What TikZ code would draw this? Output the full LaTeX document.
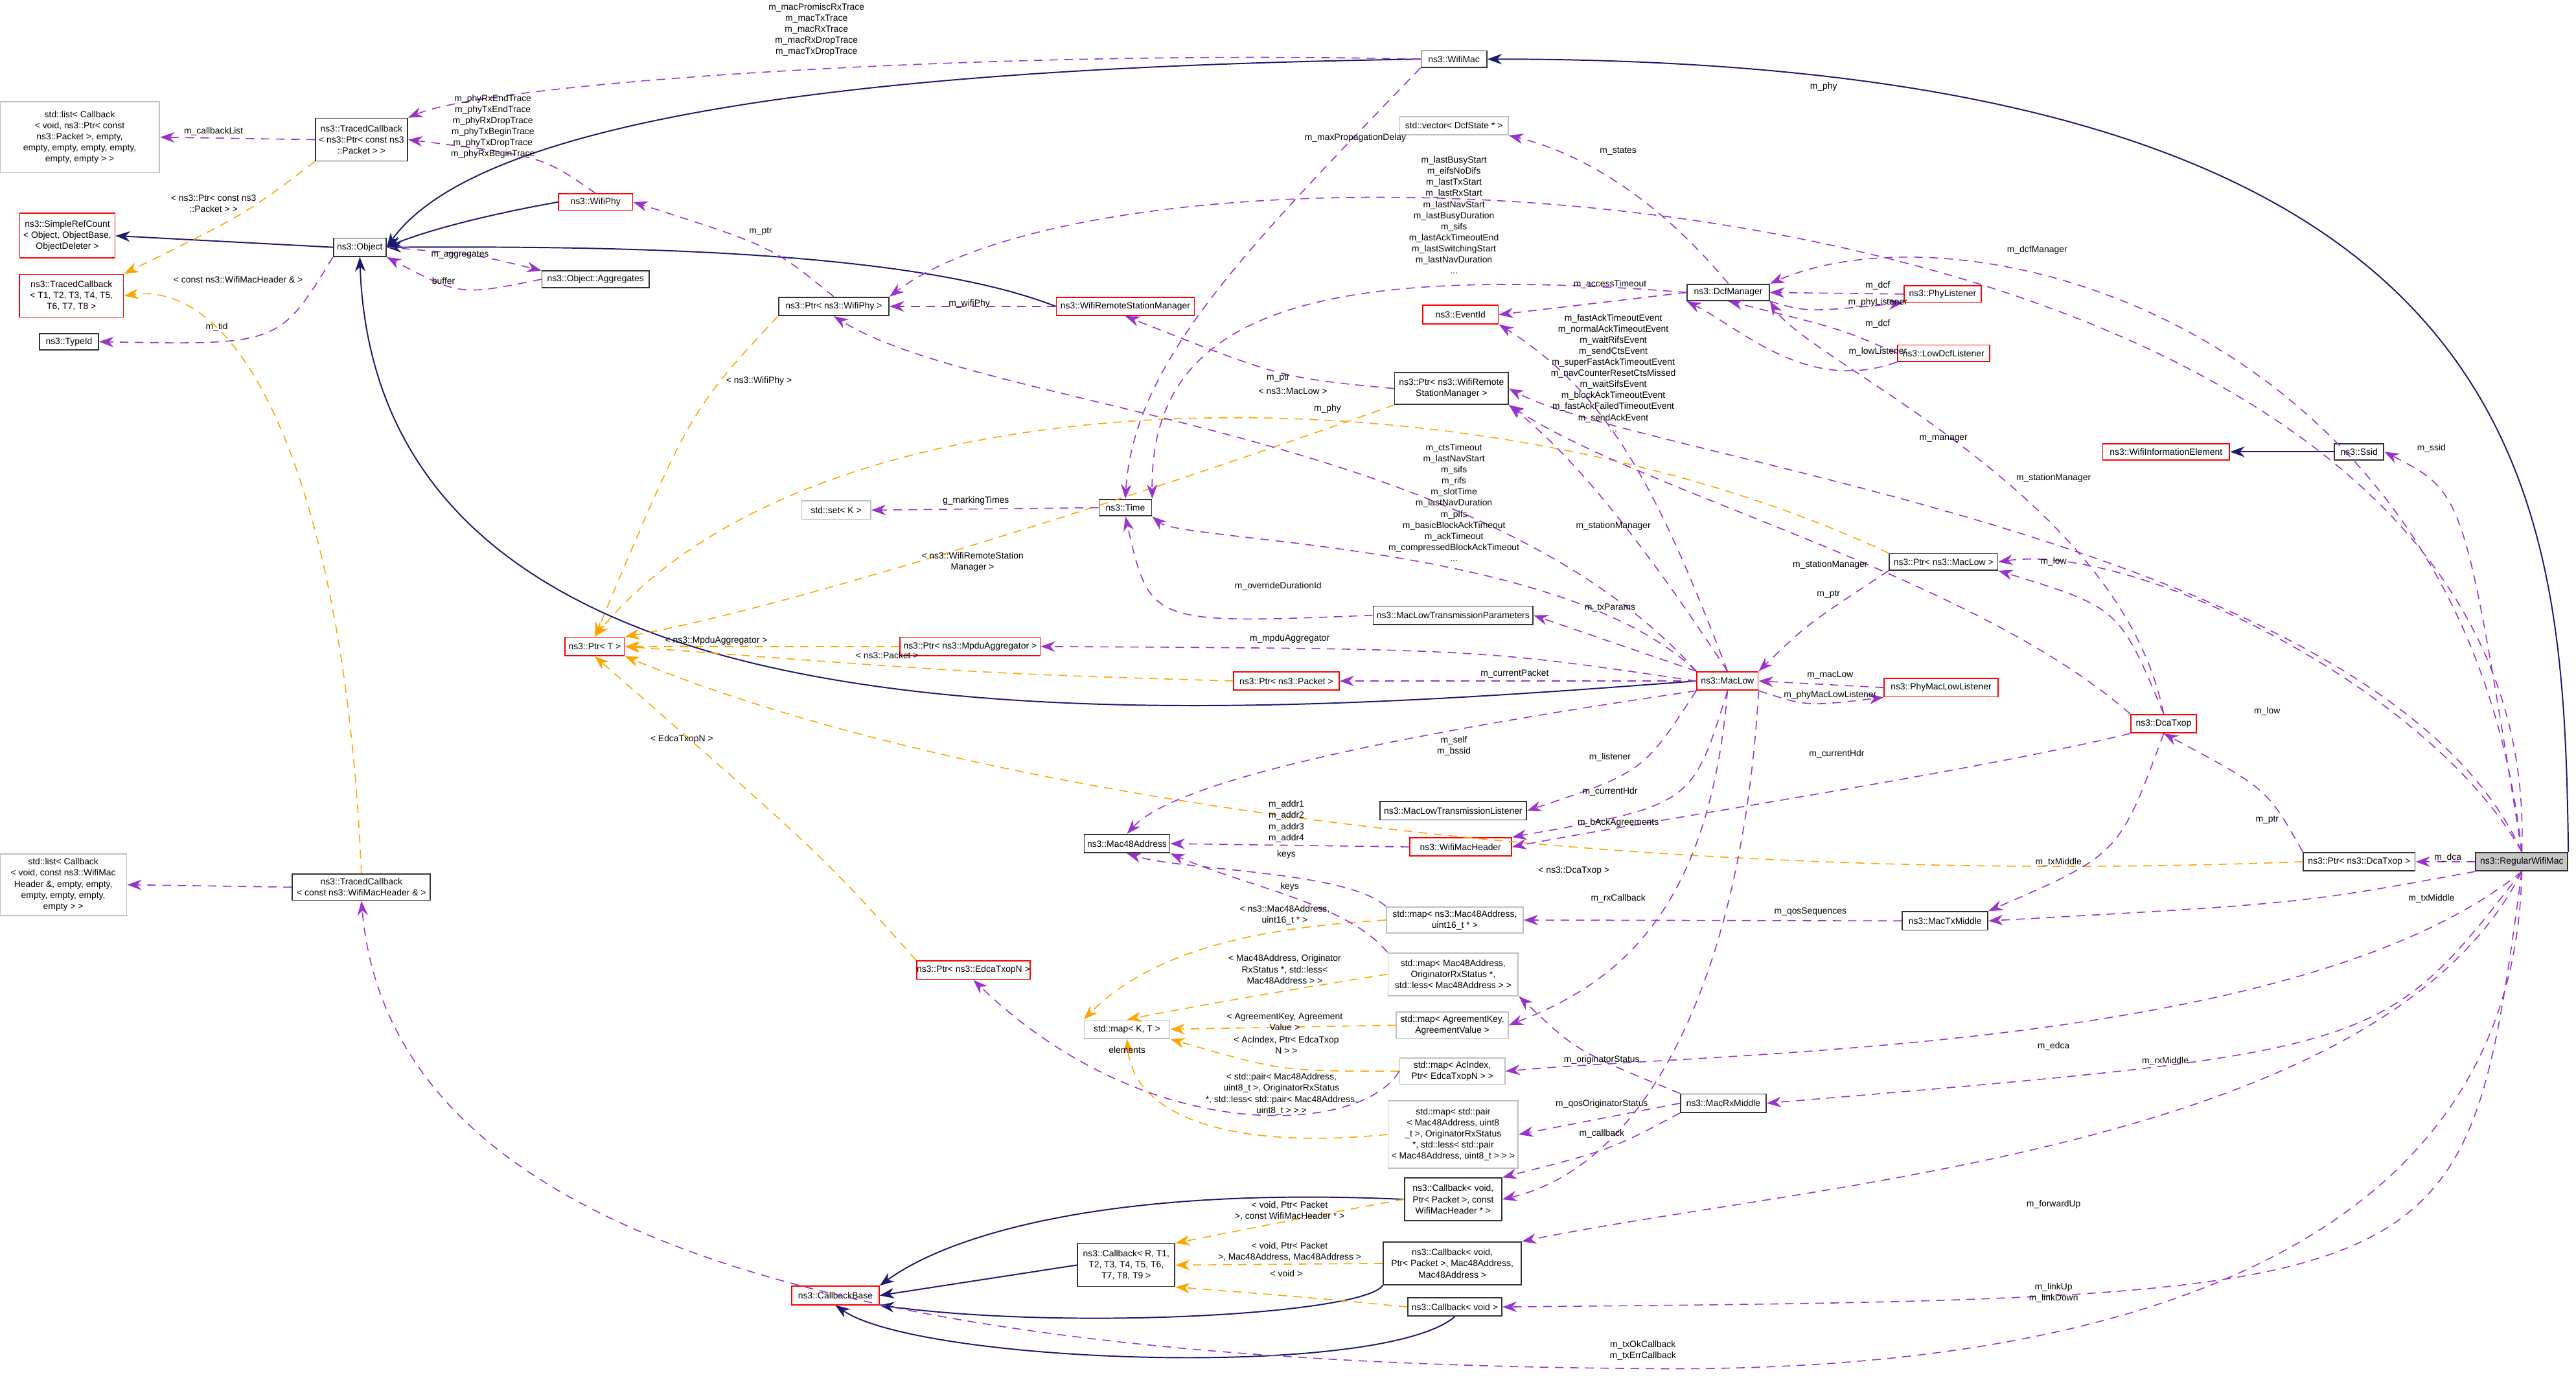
\documentclass[tikz,border=0pt]{standalone}
\usepackage{fontspec}
\setmainfont{Liberation Sans}
\usetikzlibrary{arrows.meta}
\definecolor{pur}{HTML}{9A32CD}
\definecolor{org}{HTML}{FFA500}
\definecolor{nav}{HTML}{191970}
\definecolor{rbd}{HTML}{FF0000}
\definecolor{gbd}{HTML}{BFBFBF}
\tikzset{
 base/.style={draw, line width=0.5pt, inner sep=0pt, align=center, font=\fontsize{3.9}{4.8}\selectfont},
 blk/.style={base, draw=black!80},
 red/.style={base, draw=rbd},
 gry/.style={base, draw=gbd},
 cur/.style={base, draw=black!80, fill=black!22},
 lab/.style={inner sep=0pt, align=center, font=\fontsize{3.9}{4.8}\selectfont},
 tip/.style={-{Stealth[length=2.2mm,width=1.6mm]}},
 mem/.style={tip, pur, dashed, dash pattern=on 1.3mm off 1mm, line width=0.45pt},
 tpl/.style={tip, org, dash pattern=on 1.3mm off 1mm, line width=0.45pt},
 inh/.style={tip, nav, line width=0.55pt},
}
\begin{document}
\begin{tikzpicture}[x=0.025cm,y=0.025cm]
\useasboundingbox (0,0) rectangle (1568,-841);
% nodes
\node[gry,minimum width=2.43cm,minimum height=1.08cm] (lstA) at (48.5,-83.5) {std::list< Callback\\< void, ns3::Ptr< const\\ ns3::Packet >, empty,\\ empty, empty, empty, empty,\\ empty, empty > >};
\node[blk,minimum width=1.4cm,minimum height=0.65cm] (tcp) at (220,-85) {ns3::TracedCallback\\< ns3::Ptr< const ns3\\::Packet > >};
\node[red,minimum width=1.45cm,minimum height=0.68cm] (src) at (41,-143.5) {ns3::SimpleRefCount\\< Object, ObjectBase,\\ ObjectDeleter >};
\node[red,minimum width=1.58cm,minimum height=0.65cm] (tcT) at (43.5,-180) {ns3::TracedCallback\\< T1, T2, T3, T4, T5,\\ T6, T7, T8 >};
\node[blk,minimum width=0.8cm,minimum height=0.28cm] (obj) at (219,-150.5) {ns3::Object};
\node[blk,minimum width=0.9cm,minimum height=0.25cm] (tid) at (42,-208) {ns3::TypeId};
\node[red,minimum width=1.13cm,minimum height=0.25cm] (phy) at (362.5,-123) {ns3::WifiPhy};
\node[blk,minimum width=1.63cm,minimum height=0.25cm] (agg) at (362.5,-170) {ns3::Object::Aggregates};
\node[blk,minimum width=1.68cm,minimum height=0.28cm] (pphy) at (507.5,-186.5) {ns3::Ptr< ns3::WifiPhy >};
\node[red,minimum width=2.1cm,minimum height=0.28cm] (wrsm) at (685,-186.5) {ns3::WifiRemoteStationManager};
\node[blk,minimum width=1.0cm,minimum height=0.25cm] (wmac) at (885,-36) {ns3::WifiMac};
\node[gry,minimum width=1.65cm,minimum height=0.28cm] (vec) at (885,-76.5) {std::vector< DcfState * >};
\node[blk,minimum width=1.25cm,minimum height=0.25cm] (dcf) at (1052,-178) {ns3::DcfManager};
\node[red,minimum width=1.15cm,minimum height=0.28cm] (eid) at (889,-191.5) {ns3::EventId};
\node[red,minimum width=1.18cm,minimum height=0.25cm] (phl) at (1182.5,-179) {ns3::PhyListener};
\node[red,minimum width=1.4cm,minimum height=0.25cm] (ldl) at (1183,-215) {ns3::LowDcfListener};
\node[blk,minimum width=1.73cm,minimum height=0.48cm] (pwrsm) at (883.5,-236.5) {ns3::Ptr< ns3::WifiRemote\\StationManager >};
\node[red,minimum width=1.93cm,minimum height=0.25cm] (wie) at (1318.5,-275) {ns3::WifiInformationElement};
\node[blk,minimum width=0.75cm,minimum height=0.25cm] (ssid) at (1436,-275) {ns3::Ssid};
\node[gry,minimum width=1.05cm,minimum height=0.28cm] (set) at (509,-310.5) {std::set< K >};
\node[blk,minimum width=0.8cm,minimum height=0.25cm] (time) at (685,-309) {ns3::Time};
\node[blk,minimum width=1.65cm,minimum height=0.25cm] (pml) at (1183,-342) {ns3::Ptr< ns3::MacLow >};
\node[blk,minimum width=2.43cm,minimum height=0.28cm] (mltp) at (884.5,-374.5) {ns3::MacLowTransmissionParameters};
\node[red,minimum width=0.9cm,minimum height=0.28cm] (ptrT) at (362,-393.5) {ns3::Ptr< T >};
\node[red,minimum width=2.13cm,minimum height=0.28cm] (pagg) at (590.5,-393.5) {ns3::Ptr< ns3::MpduAggregator >};
\node[red,minimum width=1.6cm,minimum height=0.28cm] (ppkt) at (783,-414.5) {ns3::Ptr< ns3::Packet >};
\node[red,minimum width=0.93cm,minimum height=0.28cm] (mlow) at (1051.5,-414.5) {ns3::MacLow};
\node[red,minimum width=1.73cm,minimum height=0.28cm] (pmll) at (1181.5,-418.5) {ns3::PhyMacLowListener};
\node[red,minimum width=1.0cm,minimum height=0.28cm] (dca) at (1317,-440.5) {ns3::DcaTxop};
\node[blk,minimum width=2.23cm,minimum height=0.28cm] (mltl) at (884.5,-493.5) {ns3::MacLowTransmissionListener};
\node[blk,minimum width=1.3cm,minimum height=0.28cm] (m48) at (686,-513.5) {ns3::Mac48Address};
\node[red,minimum width=1.55cm,minimum height=0.28cm] (wmh) at (889,-515.5) {ns3::WifiMacHeader};
\node[blk,minimum width=1.7cm,minimum height=0.28cm] (pdca) at (1436,-524.5) {ns3::Ptr< ns3::DcaTxop >};
\node[cur,minimum width=1.4cm,minimum height=0.28cm] (rwm) at (1535,-524.5) {ns3::RegularWifiMac};
\node[gry,minimum width=1.93cm,minimum height=0.93cm] (lstB) at (38.5,-538.5) {std::list< Callback\\< void, const ns3::WifiMac\\Header \&, empty, empty,\\ empty, empty, empty,\\ empty > >};
\node[blk,minimum width=2.1cm,minimum height=0.4cm] (tch) at (220,-540) {ns3::TracedCallback\\< const ns3::WifiMacHeader \& >};
\node[gry,minimum width=2.08cm,minimum height=0.4cm] (map1) at (885.5,-560) {std::map< ns3::Mac48Address,\\ uint16\_t * >};
\node[blk,minimum width=1.3cm,minimum height=0.28cm] (mtx) at (1184,-560.5) {ns3::MacTxMiddle};
\node[red,minimum width=1.63cm,minimum height=0.28cm] (pedca) at (592.5,-590.5) {ns3::Ptr< ns3::EdcaTxopN >};
\node[gry,minimum width=1.98cm,minimum height=0.65cm] (map2) at (884.5,-593) {std::map< Mac48Address,\\ OriginatorRxStatus *,\\ std::less< Mac48Address > >};
\node[gry,minimum width=1.3cm,minimum height=0.28cm] (mapKT) at (686,-626.5) {std::map< K, T >};
\node[gry,minimum width=1.7cm,minimum height=0.4cm] (map3) at (884,-624) {std::map< AgreementKey,\\ AgreementValue >};
\node[gry,minimum width=1.6cm,minimum height=0.4cm] (map4) at (884,-652) {std::map< AcIndex,\\ Ptr< EdcaTxopN > >};
\node[blk,minimum width=1.3cm,minimum height=0.28cm] (mrx) at (1049,-671.5) {ns3::MacRxMiddle};
\node[gry,minimum width=1.98cm,minimum height=1.03cm] (map5) at (884.5,-690.5) {std::map< std::pair\\< Mac48Address, uint8\\\_t >, OriginatorRxStatus\\ *, std::less< std::pair\\< Mac48Address, uint8\_t > > >};
\node[blk,minimum width=1.48cm,minimum height=0.65cm] (cb1) at (884.5,-730) {ns3::Callback< void,\\ Ptr< Packet >, const\\ WifiMacHeader * >};
\node[blk,minimum width=1.48cm,minimum height=0.65cm] (cbR) at (685.5,-770) {ns3::Callback< R, T1,\\ T2, T3, T4, T5, T6,\\ T7, T8, T9 >};
\node[blk,minimum width=2.1cm,minimum height=0.65cm] (cb2) at (884,-769) {ns3::Callback< void,\\ Ptr< Packet >, Mac48Address,\\ Mac48Address >};
\node[red,minimum width=1.33cm,minimum height=0.28cm] (cbb) at (508.5,-788.5) {ns3::CallbackBase};
\node[blk,minimum width=1.43cm,minimum height=0.28cm] (cb3) at (885.5,-795.5) {ns3::Callback< void >};
\coordinate (bot) at (1000,-833);

% inheritance
\draw[inh] (wmac.west) .. controls (600,-40) and (300,-60) .. (obj.east);
\draw[inh] (rwm.north east) .. controls (1560,-300) and (1550,-36) .. (wmac.east);
\draw[inh] (phy.west) .. controls (300,-130) and (260,-140) .. (obj.east);
\draw[inh] (wrsm.west) .. controls (550,-150) and (350,-150) .. (obj.east);
\draw[inh] (obj.west) -- (src.east);
\draw[inh] (mlow.west) .. controls (700,-440) and (230,-470) .. (obj.south);
\draw[inh] (ssid.west) -- (wie.east);
\draw[inh] (cb1.west) .. controls (680,-722) and (580,-750) .. (cbb.north east);
\draw[inh] (cbR.west) -- (cbb.east);
\draw[inh] (cb2.south west) .. controls (830,-800) and (650,-810) .. (cbb.south east);
\draw[inh] (cb3.south) .. controls (840,-840) and (560,-830) .. (cbb.south);

% templates
\draw[tpl] (tcp.south west) .. controls (150,-130) .. (tcT.north east);
\draw[tpl] (tch.north) .. controls (210,-300) and (150,-170) .. (tcT.east);
\draw[tpl] (pphy.south west) .. controls (420,-250) .. (ptrT.north);
\draw[tpl] (pwrsm.south west) .. controls (700,-300) and (480,-370) .. (ptrT.north east);
\draw[tpl] (pml.north west) .. controls (900,-220) and (500,-220) .. (ptrT.north);
\draw[tpl] (pagg.west) -- (ptrT.east);
\draw[tpl] (ppkt.west) .. controls (600,-410) .. (ptrT.east);
\draw[tpl] (pedca.north west) .. controls (500,-520) .. (ptrT.south);
\draw[tpl] (pdca.west) .. controls (1000,-540) and (600,-490) .. (ptrT.south east);
\draw[tpl] (map1.west) .. controls (760,-565) and (700,-580) .. (mapKT.north west);
\draw[tpl] (map2.west) .. controls (800,-600) and (740,-610) .. (mapKT.north);
\draw[tpl] (map3.west) -- (mapKT.east);
\draw[tpl] (map4.west) .. controls (780,-652) .. (mapKT.south east);
\draw[tpl] (map5.west) .. controls (750,-700) and (690,-680) .. (mapKT.south);
\draw[tpl] (cb1.west) .. controls (800,-740) .. (cbR.north east);
\draw[tpl] (cb2.west) -- (cbR.east);
\draw[tpl] (cb3.west) .. controls (800,-790) .. (cbR.south east);

% members
\draw[mem] (tcp.west) -- (lstA.east);
\draw[mem] (tch.west) -- (lstB.east);
\draw[mem] (wmac.west) .. controls (600,-30) and (300,-50) .. (tcp.north east);
\draw[mem] (phy.north) .. controls (330,-95) .. (tcp.east);
\draw[mem] (obj.east) .. controls (290,-155) .. (agg.north west);
\draw[mem] (agg.west) .. controls (280,-180) .. (obj.south east);
\draw[mem] (obj.south west) .. controls (170,-210) .. (tid.east);
\draw[mem] (wrsm.west) -- (pphy.east);
\draw[mem] (pphy.north) .. controls (470,-150) .. (phy.east);
\draw[mem] (wmac.south west) .. controls (760,-150) and (690,-220) .. (time.north);
\draw[mem] (dcf.north) .. controls (1000,-110) and (950,-90) .. (vec.south east);
\draw[mem] (dcf.west) .. controls (800,-160) and (700,-190) .. (time.north east);
\draw[mem] (dcf.west) -- (eid.east);
\draw[mem] (phl.west) -- (dcf.east);
\draw[mem] (dcf.south east) .. controls (1100,-190) .. (phl.south west);
\draw[mem] (ldl.west) .. controls (1120,-200) .. (dcf.south);
\draw[mem] (ldl.south west) .. controls (1100,-240) and (1060,-200) .. (dcf.south west);
\draw[mem] (mlow.north) .. controls (1010,-300) and (980,-240) .. (eid.south east);
\draw[mem] (mlow.north) .. controls (1000,-330) and (960,-280) .. (pwrsm.south east);
\draw[mem] (pwrsm.west) .. controls (780,-230) .. (wrsm.south);
\draw[mem] (mlow.north west) .. controls (900,-260) and (600,-250) .. (pphy.south);
\draw[mem] (rwm.north) .. controls (1550,-100) and (700,-60) .. (pphy.north east);
\draw[mem] (rwm.north) .. controls (1500,-200) and (1200,-120) .. (dcf.north east);
\draw[mem] (rwm.north) .. controls (1500,-300) .. (ssid.east);
\draw[mem] (rwm.north) .. controls (1450,-330) and (1000,-280) .. (pwrsm.east);
\draw[mem] (time.west) -- (set.east);
\draw[mem] (mlow.north west) .. controls (950,-330) and (720,-330) .. (time.south east);
\draw[mem] (mltp.west) .. controls (700,-380) .. (time.south);
\draw[mem] (mlow.north west) -- (mltp.east);
\draw[mem] (mlow.west) .. controls (900,-395) .. (pagg.east);
\draw[mem] (mlow.west) -- (ppkt.east);
\draw[mem] (pml.south west) .. controls (1100,-380) .. (mlow.north east);
\draw[mem] (pmll.west) -- (mlow.east);
\draw[mem] (mlow.south east) .. controls (1100,-430) .. (pmll.south west);
\draw[mem] (dca.north) .. controls (1290,-300) and (1100,-220) .. (dcf.south east);
\draw[mem] (dca.north) .. controls (1290,-370) .. (pml.south east);
\draw[mem] (dca.north west) .. controls (1200,-350) and (1000,-300) .. (pwrsm.south east);
\draw[mem] (dca.south west) .. controls (1200,-470) and (1000,-500) .. (wmh.east);
\draw[mem] (dca.south) .. controls (1290,-520) .. (mtx.north east);
\draw[mem] (rwm.north) .. controls (1480,-420) and (1300,-330) .. (pml.east);
\draw[mem] (rwm.west) -- (pdca.east);
\draw[mem] (pdca.north west) .. controls (1380,-480) .. (dca.south);
\draw[mem] (mlow.south west) .. controls (900,-440) and (720,-470) .. (m48.north);
\draw[mem] (mlow.south west) .. controls (1000,-470) .. (mltl.east);
\draw[mem] (mlow.south) .. controls (1030,-490) .. (wmh.north east);
\draw[mem] (wmh.west) -- (m48.east);
\draw[mem] (map1.north west) .. controls (820,-530) and (720,-530) .. (m48.south);
\draw[mem] (map2.north west) .. controls (820,-550) and (760,-540) .. (m48.south east);
\draw[mem] (mlow.south) .. controls (1040,-560) and (980,-600) .. (map3.east);
\draw[mem] (mlow.south east) .. controls (1060,-600) and (1000,-710) .. (cb1.east);
\draw[mem] (rwm.south west) .. controls (1400,-550) .. (mtx.east);
\draw[mem] (mtx.west) -- (map1.east);
\draw[mem] (map4.west) .. controls (830,-690) and (700,-700) .. (pedca.south);
\draw[mem] (rwm.south) .. controls (1400,-640) and (1050,-640) .. (map4.east);
\draw[mem] (rwm.south) .. controls (1450,-640) .. (mrx.east);
\draw[mem] (mrx.north west) .. controls (960,-640) .. (map2.south east);
\draw[mem] (mrx.west) -- (map5.east);
\draw[mem] (mrx.south west) .. controls (980,-700) .. (cb1.north east);
\draw[mem] (rwm.south) .. controls (1450,-700) and (1100,-720) .. (cb2.north east);
\draw[mem] (rwm.south) .. controls (1500,-790) .. (cb3.east);
\draw[mem] (rwm.south) .. controls (1530,-780) and (1250,-836) .. (bot) .. controls (600,-830) and (240,-780) .. (tch.south);

% labels
\node[lab] (l1) at (497,-18) {m\_macPromiscRxTrace\\m\_macTxTrace\\m\_macRxTrace\\m\_macRxDropTrace\\m\_macTxDropTrace};
\node[lab] (l2) at (130,-80) {m\_callbackList};
\node[lab] (l3) at (300,-77) {m\_phyRxEndTrace\\m\_phyTxEndTrace\\m\_phyRxDropTrace\\m\_phyTxBeginTrace\\m\_phyTxDropTrace\\m\_phyRxBeginTrace};
\node[lab] (l4) at (130,-124) {< ns3::Ptr< const ns3\\::Packet > >};
\node[lab] (l5) at (145,-170) {< const ns3::WifiMacHeader \& >};
\node[lab] (l6) at (280,-155) {m\_aggregates};
\node[lab] (l7) at (270,-171) {buffer};
\node[lab] (l8) at (132,-199) {m\_tid};
\node[lab] (l9) at (463,-141) {m\_ptr};
\node[lab] (l10) at (825,-84) {m\_maxPropagationDelay};
\node[lab] (l11) at (885,-131) {m\_lastBusyStart\\m\_eifsNoDifs\\m\_lastTxStart\\m\_lastRxStart\\m\_lastNavStart\\m\_lastBusyDuration\\m\_sifs\\m\_lastAckTimeoutEnd\\m\_lastSwitchingStart\\m\_lastNavDuration\\...};
\node[lab] (l12) at (985,-92) {m\_states};
\node[lab] (l13) at (980,-173) {m\_accessTimeout};
\node[lab] (l14) at (1143,-174) {m\_dcf};
\node[lab] (l15) at (1143,-184) {m\_phyListener};
\node[lab] (l16) at (1143,-197) {m\_dcf};
\node[lab] (l17) at (1143,-214) {m\_lowListener};
\node[lab] (l18) at (982,-227) {m\_fastAckTimeoutEvent\\m\_normalAckTimeoutEvent\\m\_waitRifsEvent\\m\_sendCtsEvent\\m\_superFastAckTimeoutEvent\\m\_navCounterResetCtsMissed\\m\_waitSifsEvent\\m\_blockAckTimeoutEvent\\m\_fastAckFailedTimeoutEvent\\m\_sendAckEvent\\...};
\node[lab] (l19) at (885,-306) {m\_ctsTimeout\\m\_lastNavStart\\m\_sifs\\m\_rifs\\m\_slotTime\\m\_lastNavDuration\\m\_pifs\\m\_basicBlockAckTimeout\\m\_ackTimeout\\m\_compressedBlockAckTimeout\\...};
\node[lab] (l20) at (982,-320) {m\_stationManager};
\node[lab] (l21) at (1114,-344) {m\_stationManager};
\node[lab] (l22) at (1250,-291) {m\_stationManager};
\node[lab] (l23) at (787,-238) {< ns3::MacLow >};
\node[lab] (l24) at (778,-230) {m\_ptr};
\node[lab] (l25) at (808,-249) {m\_phy};
\node[lab] (l26) at (590,-185) {m\_wifiPhy};
\node[lab] (l27) at (462,-232) {< ns3::WifiPhy >};
\node[lab] (l28) at (594,-305) {g\_markingTimes};
\node[lab] (l29) at (592,-342) {< ns3::WifiRemoteStation\\Manager >};
\node[lab] (l30) at (778,-357) {m\_overrideDurationId};
\node[lab] (l31) at (980,-370) {m\_txParams};
\node[lab] (l32) at (436,-390) {< ns3::MpduAggregator >};
\node[lab] (l33) at (785,-389) {m\_mpduAggregator};
\node[lab] (l34) at (540,-399) {< ns3::Packet >};
\node[lab] (l35) at (922,-410) {m\_currentPacket};
\node[lab] (l36) at (1113,-362) {m\_ptr};
\node[lab] (l37) at (1250,-342) {m\_low};
\node[lab] (l38) at (1114,-411) {m\_macLow};
\node[lab] (l39) at (1114,-423) {m\_phyMacLowListener};
\node[lab] (l40) at (1183,-267) {m\_manager};
\node[lab] (l41) at (415,-450) {< EdcaTxopN >};
\node[lab] (l42) at (885,-454) {m\_self\\m\_bssid};
\node[lab] (l43) at (980,-461) {m\_listener};
\node[lab] (l44) at (980,-482) {m\_currentHdr};
\node[lab] (l45) at (1118,-459) {m\_currentHdr};
\node[lab] (l46) at (985,-501) {m\_bAckAgreements};
\node[lab] (l47) at (783,-500) {m\_addr1\\m\_addr2\\m\_addr3\\m\_addr4};
\node[lab] (l48) at (958,-530) {< ns3::DcaTxop >};
\node[lab] (l49) at (1380,-499) {m\_ptr};
\node[lab] (l50) at (1490,-522) {m\_dca};
\node[lab] (l51) at (783,-520) {keys};
\node[lab] (l52) at (785,-540) {keys};
\node[lab] (l53) at (782,-557) {< ns3::Mac48Address,\\ uint16\_t * >};
\node[lab] (l54) at (985,-547) {m\_rxCallback};
\node[lab] (l55) at (1102,-555) {m\_qosSequences};
\node[lab] (l56) at (1253,-525) {m\_txMiddle};
\node[lab] (l57) at (1480,-547) {m\_txMiddle};
\node[lab] (l58) at (782,-590) {< Mac48Address, Originator\\RxStatus *, std::less<\\ Mac48Address > >};
\node[lab] (l59) at (782,-622) {< AgreementKey, Agreement\\Value >};
\node[lab] (l60) at (686,-639) {elements};
\node[lab] (l61) at (783,-636) {< AcIndex, Ptr< EdcaTxop\\N > >};
\node[lab] (l62) at (780,-666) {< std::pair< Mac48Address,\\uint8\_t >, OriginatorRxStatus\\*, std::less< std::pair< Mac48Address,\\ uint8\_t > > >};
\node[lab] (l63) at (1250,-637) {m\_edca};
\node[lab] (l64) at (975,-645) {m\_originatorStatus};
\node[lab] (l65) at (975,-672) {m\_qosOriginatorStatus};
\node[lab] (l66) at (975,-690) {m\_callback};
\node[lab] (l67) at (1318,-646) {m\_rxMiddle};
\node[lab] (l68) at (785,-737) {< void, Ptr< Packet\\>, const WifiMacHeader * >};
\node[lab] (l69) at (785,-762) {< void, Ptr< Packet\\>, Mac48Address, Mac48Address >};
\node[lab] (l70) at (783,-775) {< void >};
\node[lab] (l71) at (1250,-733) {m\_forwardUp};
\node[lab] (l72) at (1250,-787) {m\_linkUp\\m\_linkDown};
\node[lab] (l73) at (1000,-822) {m\_txOkCallback\\m\_txErrCallback};
\node[lab] (l74) at (1110,-53) {m\_phy};
\node[lab] (l75) at (1240,-152) {m\_dcfManager};
\node[lab] (l76) at (1480,-273) {m\_ssid};
\node[lab] (l77) at (1380,-433) {m\_low};
\end{tikzpicture}
\end{document}
